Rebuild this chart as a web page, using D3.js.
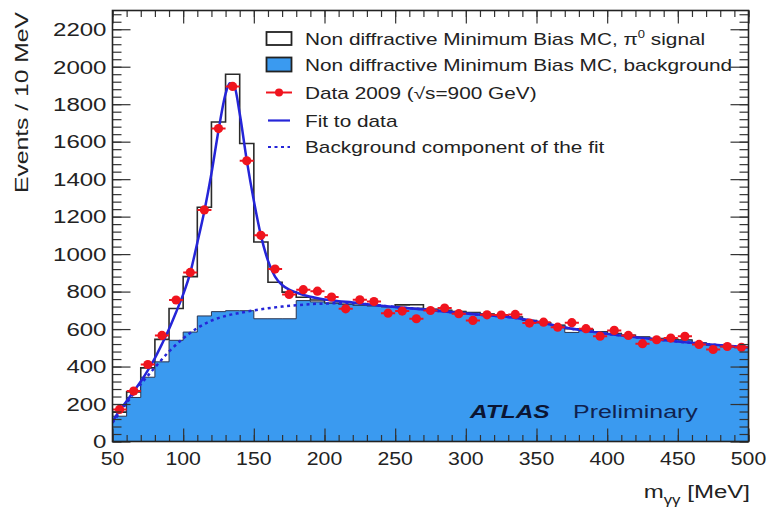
<!DOCTYPE html>
<html><head><meta charset="utf-8">
<script src="https://cdn.jsdelivr.net/npm/d3@7"></script>
<style>body{margin:0;background:#fff}svg{display:block}text{font-family:"Liberation Sans",Arial,Helvetica,sans-serif}</style>
</head><body><svg id="c" width="771" height="517"></svg>
<script>
// ---- data ----
const binLow = [50,60,70,80,90,100,110,120,130,140,150,160,170,180,190,200,210,220,230,240,250,260,270,280,290,300,310,320,330,340,350,360,370,380,390,400,410,420,430,440,450,460,470,480,490];
const mcBackground = [135,235,343,425,540,584,670,693,698,698,655,655,655,752,745,738,732,727,723,718,714,712,706,700,694,688,680,672,664,646,633,620,582,598,586,576,567,557,549,545,541,525,514,505,500];
const mcSignal = [22,30,50,120,170,296,580,1012,1262,892,410,195,142,18,10,0,0,0,0,0,15,18,0,0,0,0,0,0,0,0,0,0,20,0,0,0,0,0,0,0,0,0,0,0,0];
const dataMass = [55,65,75,85,95,105,115,125,135,145,155,165,175,185,195,205,215,225,235,245,255,265,275,285,295,305,315,325,335,345,355,365,375,385,395,405,415,425,435,445,455,465,475,485,495];
const dataEvents = [171,269,411,566,755,902,1236,1670,1895,1498,1100,920,785,810,802,771,708,756,747,685,696,655,699,712,682,646,676,675,678,632,637,610,634,602,562,593,566,522,543,552,561,518,491,507,503];
const fitMass = [50,55,60,65,70,75,80,85,90,95,100,105,110,115,120,125,130,133,136,140,145,150,155,160,165,170,175,180,190,200,210,220,230,250,270,290,310,330,350,370,390,410,430,450,470,490,500];
const fitEvents = [105,165,215,268,320,380,445,520,600,690,785,900,1060,1230,1430,1660,1855,1912,1900,1750,1500,1285,1100,965,880,835,810,795,772,758,749,742,733,718,705,690,676,664,640,608,585,565,548,533,520,508,503];
const bgFitMass = [50,60,70,80,90,100,110,120,130,140,150,160,170,180,190,200,210,220,230,250,270,290,310,330,350,370,390,410,430,450,470,490,500];
const bgFitEvents = [100,205,305,395,480,550,605,645,670,686,700,711,720,727,733,736,738,738,733,718,705,690,676,664,640,608,585,565,548,533,520,508,503];
const yTicks = [0,200,400,600,800,1000,1200,1400,1600,1800,2000,2200];
const xTicks = [50,100,150,200,250,300,350,400,450,500];
const legendLabels = ["Non diffractive Minimum Bias MC, π", "Non diffractive Minimum Bias MC, background", "Data 2009 (√s=900 GeV)", "Fit to data", "Background component of the fit"];

// ---- drawing ----
const svg = d3.select("#c");
const L=112.5, R=748.5, T=10.5, B=441.5;
const x = d3.scaleLinear().domain([50,500]).range([L,R]);
const y = d3.scaleLinear().domain([0,2300]).range([B,T]);
const BLUE_FILL = "#3a9af0", FIT = "#2525d8", RED = "#f0141e";

svg.append("rect").attr("width",771).attr("height",517).attr("fill","#fff");
svg.append("clipPath").attr("id","clip").append("rect").attr("x",L).attr("y",T).attr("width",R-L).attr("height",B-T);
const plot = svg.append("g").attr("clip-path","url(#clip)");

function stepPts(vals){ const p = binLow.map((b,i)=>[b, vals[i]]); p.push([500, vals[vals.length-1]]); return p; }
const area = d3.area().x(d=>x(d[0])).y0(y(0)).y1(d=>y(d[1])).curve(d3.curveStepAfter);
const totals = mcBackground.map((v,i)=>v+mcSignal[i]);

plot.append("path").attr("d", area(stepPts(totals))).attr("fill","#fff").attr("stroke","#2a2a2a").attr("stroke-width",1.6);
plot.append("path").attr("d", area(stepPts(mcBackground))).attr("fill",BLUE_FILL).attr("stroke","#2a3550").attr("stroke-width",1);

const line = d3.line().x(d=>x(d[0])).y(d=>y(d[1])).curve(d3.curveMonotoneX);
plot.append("path").attr("d", line(bgFitMass.map((m,i)=>[m,bgFitEvents[i]]))).attr("fill","none").attr("stroke",FIT).attr("stroke-width",2.5).attr("stroke-dasharray","3,3.5");
plot.append("path").attr("d", line(fitMass.map((m,i)=>[m,fitEvents[i]]))).attr("fill","none").attr("stroke",FIT).attr("stroke-width",2.5);

const pts = plot.append("g");
dataMass.forEach((m,i)=>{
  pts.append("line").attr("x1",x(m-5)).attr("x2",x(m+5)).attr("y1",y(dataEvents[i])).attr("y2",y(dataEvents[i])).attr("stroke",RED).attr("stroke-width",2);
  pts.append("circle").attr("cx",x(m)).attr("cy",y(dataEvents[i])).attr("r",4.6).attr("fill",RED);
});

// axes (ticks inside the frame, ROOT style)
function ticksOnly(axis, vals, size, tr){
  const g = svg.append("g").attr("transform",tr).call(axis.tickValues(vals).tickSize(size).tickFormat(""));
  g.select(".domain").remove();
  g.selectAll("line").attr("stroke","#333").attr("stroke-width",1.2);
}
const yMinor = d3.range(0,2300,40), xMinor = d3.range(50,501,10);
ticksOnly(d3.axisLeft(y), yTicks, -18, `translate(${L},0)`);
ticksOnly(d3.axisLeft(y), yMinor, -9, `translate(${L},0)`);
ticksOnly(d3.axisRight(y), yTicks, -18, `translate(${R},0)`);
ticksOnly(d3.axisRight(y), yMinor, -9, `translate(${R},0)`);
ticksOnly(d3.axisBottom(x), xTicks, -13, `translate(0,${B})`);
ticksOnly(d3.axisBottom(x), xMinor, -6.5, `translate(0,${B})`);
ticksOnly(d3.axisTop(x), xTicks, -13, `translate(0,${T})`);
ticksOnly(d3.axisTop(x), xMinor, -6.5, `translate(0,${T})`);
svg.append("rect").attr("x",L).attr("y",T).attr("width",R-L).attr("height",B-T).attr("fill","none").attr("stroke","#222").attr("stroke-width",1.6);

function stext(px, py, str, size, anchor, sx, color, extra){
  const t = svg.append("text").attr("transform",`translate(${px},${py}) scale(${sx},1)`)
    .attr("text-anchor",anchor).attr("font-size",size).attr("fill",color||"#222").text(str);
  if(extra) extra(t);
  return t;
}
yTicks.forEach(v=>stext(106.5, y(v)+6.8, String(v), 18.5, "end", 1.3));
xTicks.forEach(v=>stext(x(v), 465, String(v), 18.5, "middle", 1.15));

// axis titles
svg.append("text").attr("transform","translate(28,102.5) rotate(-90) scale(1.3,1)").attr("text-anchor","middle")
  .attr("font-size",19).attr("fill","#222").text("Events / 10 MeV");
const xt = svg.append("text").attr("transform","translate(750,498) scale(1.3,1)").attr("text-anchor","end").attr("font-size",18.5).attr("fill","#222");
xt.append("tspan").text("m");
xt.append("tspan").attr("font-size",13).attr("dy",6).text("γγ");
xt.append("tspan").attr("dy",-6).text(" [MeV]");

// ATLAS label
svg.append("text").attr("transform","translate(470,418) scale(1.32,1)").attr("font-size",18.5).attr("font-weight","bold").attr("font-style","italic").attr("fill","#0b1533").text("ATLAS");
svg.append("text").attr("transform","translate(573,418) scale(1.35,1)").attr("font-size",18.5).attr("fill","#10224f").text("Preliminary");

// legend
const rowY = [39, 64.5, 92.5, 120.5, 147];
const lg = svg.append("g");
lg.append("rect").attr("x",266.5).attr("y",32).attr("width",25).attr("height",13).attr("fill","#fff").attr("stroke","#222").attr("stroke-width",1.8);
lg.append("rect").attr("x",266.5).attr("y",57.5).attr("width",25).attr("height",14).attr("fill",BLUE_FILL).attr("stroke","#222").attr("stroke-width",1.8);
lg.append("line").attr("x1",266).attr("x2",292).attr("y1",rowY[2]).attr("y2",rowY[2]).attr("stroke",RED).attr("stroke-width",2);
lg.append("circle").attr("cx",279).attr("cy",rowY[2]).attr("r",4).attr("fill",RED);
lg.append("line").attr("x1",268).attr("x2",290).attr("y1",rowY[3]).attr("y2",rowY[3]).attr("stroke",FIT).attr("stroke-width",2.2);
lg.append("line").attr("x1",268).attr("x2",290).attr("y1",rowY[4]).attr("y2",rowY[4]).attr("stroke",FIT).attr("stroke-width",2.2).attr("stroke-dasharray","3,3.5");
legendLabels.forEach((s,i)=>{
  const t = svg.append("text").attr("transform",`translate(305,${rowY[i]+6}) scale(1.3,1)`).attr("font-size",16).attr("fill","#222");
  t.append("tspan").text(s);
  if(i===0){
    t.append("tspan").attr("font-size",10).attr("dy",-7).text("0");
    t.append("tspan").attr("dy",7).text(" signal");
  }
});
</script></body></html>
